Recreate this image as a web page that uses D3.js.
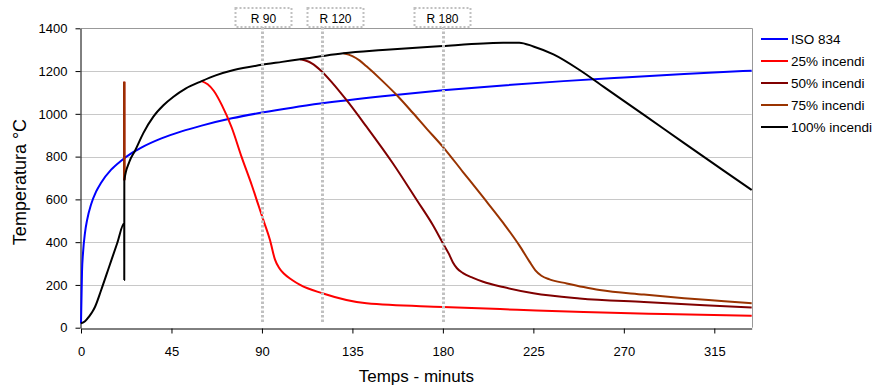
<!DOCTYPE html>
<html>
<head>
<meta charset="utf-8">
<script src="https://cdn.jsdelivr.net/npm/d3@7"></script>
<style>
  html, body { margin: 0; padding: 0; background: #fff; }
  text { font-family: "Liberation Sans", Arial, sans-serif; fill: #000; }
</style>
</head>
<body>
<svg id="chart" width="876" height="387"></svg>
<script>
// ---- axes -------------------------------------------------------------
const xTicks = [0, 45, 90, 135, 180, 225, 270, 315];
const yTicks = [0, 200, 400, 600, 800, 1000, 1200, 1400];
const xTitle = "Temps - minuts";
const yTitle = "Temperatura °C";
const timeEnd = 333.6;

// ---- fire-resistance marks -------------------------------------------
const markMinutes = [90, 120, 180];
const markLabels = ["R 90", "R 120", "R 180"];

// ---- ISO 834 standard curve ------------------------------------------
const isoMin  = [0, 0.5, 1, 2, 3, 5, 7.5, 10, 15, 20, 25, 30, 40, 50, 60, 75, 90, 105, 120, 150, 180, 210, 240, 270, 300, 333.6];
const isoTemp = [20, 261, 349, 445, 502, 576, 636, 678, 739, 781, 815, 842, 885, 918, 945, 979, 1006, 1029, 1049, 1082, 1110, 1133, 1153, 1170, 1186, 1202];

// ---- shared heating phase up to flashover ----------------------------
const rampMin  = [0, 2, 4, 5.5, 7, 10, 14, 18, 21.5];
const rampTemp = [20, 30, 52, 72, 98, 175, 285, 395, 488];
const flashMin = 21.52;
const flashLowTemp  = 223;   // 100% incendi
const flashHighTemp = 1150;  // partial fires

// ---- 100% incendi after flashover ------------------------------------
const fullMin  = [21.55, 24, 27, 31, 36, 41, 46, 52, 60, 67, 76, 89, 100, 109, 120, 130.5, 150, 180, 200, 210, 218, 225, 235, 248, 260, 280, 300, 320, 333.6];
const fullTemp = [690, 775, 830, 910, 987, 1040, 1080, 1118, 1153, 1180, 1205, 1228, 1243, 1255, 1270, 1283, 1298, 1317, 1329, 1332, 1333, 1315, 1278, 1205, 1126, 995, 863, 732, 644];

// ---- cooling branches of the partial fires ---------------------------
const split25 = 60, split50 = 109, split75 = 130.5;

const cool25Min  = [63, 66, 70, 75, 80, 85, 88, 91, 94, 96.5, 98.5, 101, 105, 109, 120, 142, 180, 217, 250, 290, 333.6];
const cool25Temp = [1138, 1108, 1042, 935, 795, 665, 580, 495, 410, 318, 280, 252, 223, 200, 161, 114, 97, 84, 73, 64, 56];

const cool50Min  = [112, 115, 119, 125, 132, 142, 155, 167, 175, 180, 183, 185, 187, 190, 195, 200, 210, 225, 248, 280, 310, 333.6];
const cool50Temp = [1248, 1235, 1205, 1145, 1065, 940, 770, 597, 480, 395, 345, 305, 278, 255, 233, 215, 190, 161, 137, 120, 105, 94];

const cool75Min  = [135, 138.5, 142, 150, 157, 165, 172, 180, 190, 200, 210, 218, 223, 226, 229, 233, 241.6, 250, 258, 280, 300, 320, 333.6];
const cool75Temp = [1270, 1250, 1222, 1153, 1088, 1005, 930, 846, 728, 610, 490, 385, 310, 268, 243, 226, 207, 190, 176, 155, 138, 124, 114];

const seriesNames  = ["ISO 834", "25% incendi", "50% incendi", "75% incendi", "100% incendi"];
const seriesColors = ["#0000ff", "#ff0000", "#800000", "#993300", "#000000"];

// ---- build point lists -----------------------------------------------
// `shown` is false where a partial fire runs under the 100% curve,
// so that stretch is left to the black line drawn on top.
const zipPts = (m, t, shown = true) => m.map((d, i) => ({ t: d, v: t[i], shown }));
const ramp = zipPts(rampMin, rampTemp);
const full = zipPts(fullMin, fullTemp);

function partialFire(split, coolMin, coolTemp) {
  return zipPts(rampMin, rampTemp, false)
    .concat([{ t: flashMin, v: flashHighTemp, shown: true }, { t: fullMin[0], v: fullTemp[0], shown: true }])
    .concat(full.filter(p => p.t > fullMin[0] && p.t < split).map(p => ({ ...p, shown: false })))
    .concat(full.filter(p => p.t === split))
    .concat(zipPts(coolMin, coolTemp));
}

const seriesData = [
  zipPts(isoMin, isoTemp),
  partialFire(split25, cool25Min, cool25Temp),
  partialFire(split50, cool50Min, cool50Temp),
  partialFire(split75, cool75Min, cool75Temp),
  ramp.concat([{ t: flashMin, v: flashLowTemp, shown: true }]).concat(full)
];

// ---- layout ------------------------------------------------------------
const svg = d3.select("#chart");
const plotL = 81, plotR = 751.7, plotT = 28.3, plotB = 327.7;

const x = d3.scaleLinear().domain([0, timeEnd]).range([plotL, plotR]);
const y = d3.scaleLinear().domain([0, 1400]).range([plotB, plotT]);

svg.append("rect").attr("width", 876).attr("height", 387).attr("fill", "#fff");

// horizontal gridlines
svg.append("g").selectAll("line")
  .data(yTicks.filter(v => v > 0 && v < 1400))
  .join("line")
  .attr("x1", plotL).attr("x2", plotR)
  .attr("y1", d => Math.round(y(d)) + 0.5).attr("y2", d => Math.round(y(d)) + 0.5)
  .attr("stroke", "#c8c8c8").attr("stroke-width", 1);

// plot frame (top and right)
svg.append("path")
  .attr("d", `M${plotL},${Math.round(plotT) + 0.5}H${Math.round(plotR) + 0.5}V${plotB}`)
  .attr("fill", "none").attr("stroke", "#999").attr("stroke-width", 1);

// y axis
const yAxis = svg.append("g")
  .attr("transform", `translate(${Math.round(plotL) - 0.5},0)`)
  .call(d3.axisLeft(y).tickValues(yTicks).tickFormat(d3.format("d"))
    .tickSize(5).tickSizeOuter(0).tickPadding(8));
yAxis.select(".domain").attr("stroke", "#000");
yAxis.selectAll(".tick line").attr("stroke", "#000");
yAxis.selectAll("text").attr("font-size", 13).attr("font-family", null);

// x axis
const xAxis = svg.append("g")
  .attr("transform", `translate(0,${Math.round(plotB) + 0.5})`)
  .call(d3.axisBottom(x).tickValues(xTicks).tickFormat(d3.format("d"))
    .tickSize(5).tickSizeOuter(0).tickPadding(13));
xAxis.select(".domain").attr("stroke", "#000");
xAxis.selectAll(".tick line").attr("stroke", "#000");
xAxis.selectAll("text").attr("font-size", 13).attr("font-family", null);

// axis titles
svg.append("text")
  .attr("x", (plotL + plotR) / 2).attr("y", 382)
  .attr("text-anchor", "middle").attr("font-size", 17)
  .text(xTitle);
svg.append("text")
  .attr("transform", `translate(26,182) rotate(-90)`)
  .attr("text-anchor", "middle").attr("font-size", 18)
  .text(yTitle);

// curves
const line = d3.line()
  .defined(d => d.shown)
  .x(d => x(d.t)).y(d => y(d.v))
  .curve(d3.curveMonotoneX);
svg.append("g").selectAll("path")
  .data(seriesData)
  .join("path")
  .attr("d", line)
  .attr("fill", "none")
  .attr("stroke", (d, i) => seriesColors[i])
  .attr("stroke-width", 2)
  .attr("stroke-linejoin", "round");

// fire-resistance marks: dotted verticals with boxed labels
const labelShift = [1, 13, -1];
const marks = svg.append("g");
markMinutes.forEach((m, i) => {
  const lx = Math.round(x(m)) + 0.5;
  marks.append("line")
    .attr("x1", lx).attr("x2", lx).attr("y1", 27).attr("y2", 323)
    .attr("stroke", "#c0c0c0").attr("stroke-width", 3)
    .attr("stroke-dasharray", "2.5,2");
  const cx = lx + labelShift[i];
  marks.append("rect")
    .attr("x", cx - 28).attr("y", 8).attr("width", 56).attr("height", 19)
    .attr("fill", "#fff").attr("stroke", "#c0c0c0").attr("stroke-width", 2)
    .attr("stroke-dasharray", "2,2");
  marks.append("text")
    .attr("x", cx).attr("y", 22.5).attr("text-anchor", "middle")
    .attr("font-size", 12).text(markLabels[i]);
});

// legend
const legend = svg.append("g");
seriesNames.forEach((name, i) => {
  const ly = 39 + i * 22;
  legend.append("line")
    .attr("x1", 761).attr("x2", 788).attr("y1", ly).attr("y2", ly)
    .attr("stroke", seriesColors[i]).attr("stroke-width", 2);
  legend.append("text")
    .attr("x", 791).attr("y", ly + 5)
    .attr("font-size", 13.5).text(name);
});
</script>
</body>
</html>
